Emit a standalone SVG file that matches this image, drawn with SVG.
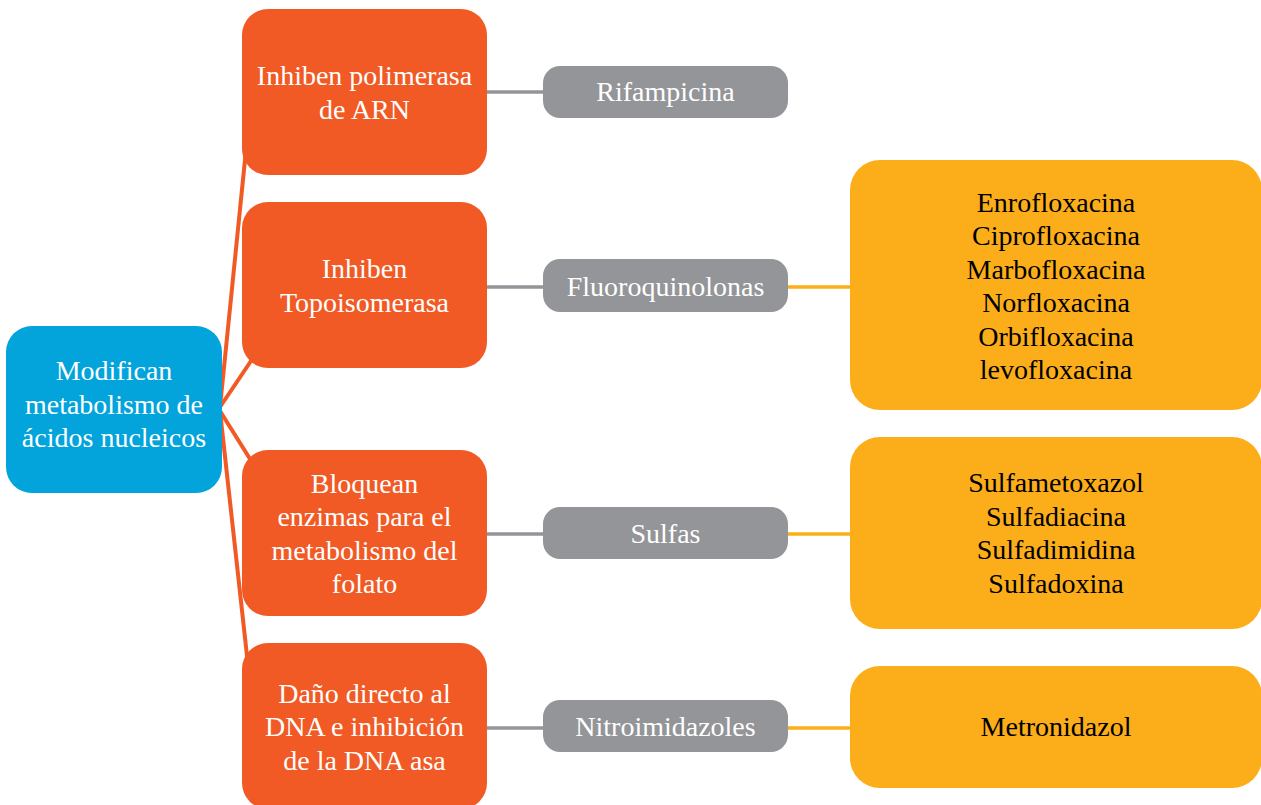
<svg xmlns="http://www.w3.org/2000/svg" width="1261" height="805" viewBox="0 0 1261 805">
<style>
text{font-size:28px;text-anchor:middle}
.w{fill:#ffffff}
.k{fill:#000000}
.blue{fill:#02A4DB}
.orange{fill:#F15A24}
.grey{fill:#939598}
.yellow{fill:#FBAE19}
.lo{stroke:#F15A24;stroke-width:4;fill:none}
.lg{stroke:#939598;stroke-width:3.5;fill:none}
.ly{stroke:#FBAE19;stroke-width:3.5;fill:none}
</style>
<rect width="1261" height="805" fill="#ffffff"/>
<g id="connectors">
<line class="lo" x1="220" y1="407" x2="247" y2="140"/>
<line class="lo" x1="220" y1="407" x2="255" y2="355"/>
<line class="lo" x1="220" y1="411" x2="255" y2="467"/>
<line class="lo" x1="220" y1="411" x2="248" y2="665"/>
<line class="lg" x1="487" y1="92" x2="544" y2="92"/>
<line class="lg" x1="487" y1="287" x2="544" y2="287"/>
<line class="lg" x1="487" y1="534" x2="544" y2="534"/>
<line class="lg" x1="487" y1="728" x2="544" y2="728"/>
<line class="ly" x1="788" y1="287" x2="851" y2="287"/>
<line class="ly" x1="788" y1="534" x2="851" y2="534"/>
<line class="ly" x1="788" y1="728" x2="851" y2="728"/>
</g>
<g font-family="'Liberation Serif', 'Times New Roman', 'DejaVu Serif', serif">
<g id="root">
<rect class="blue" x="6" y="326" width="216" height="167" rx="26"/>
<text class="w" x="114" y="380">Modifican</text>
<text class="w" x="114" y="413.5">metabolismo de</text>
<text class="w" x="114" y="447">ácidos nucleicos</text>
</g>
<g id="n1">
<rect class="orange" x="242" y="9" width="245" height="166" rx="26"/>
<text class="w" x="364.5" y="85">Inhiben polimerasa</text>
<text class="w" x="364.5" y="118.5">de ARN</text>
</g>
<g id="n2">
<rect class="orange" x="242" y="202" width="245" height="166" rx="26"/>
<text class="w" x="364.5" y="278">Inhiben</text>
<text class="w" x="364.5" y="311.5">Topoisomerasa</text>
</g>
<g id="n3">
<rect class="orange" x="242" y="450" width="245" height="166" rx="26"/>
<text class="w" x="364.5" y="492.5">Bloquean</text>
<text class="w" x="364.5" y="526">enzimas para el</text>
<text class="w" x="364.5" y="559.5">metabolismo del</text>
<text class="w" x="364.5" y="593">folato</text>
</g>
<g id="n4">
<rect class="orange" x="242" y="643" width="245" height="166" rx="26"/>
<text class="w" x="364.5" y="702.5">Daño directo al</text>
<text class="w" x="364.5" y="736">DNA e inhibición</text>
<text class="w" x="364.5" y="769.5">de la DNA asa</text>
</g>
<g id="g1">
<rect class="grey" x="543" y="66" width="245" height="52" rx="17"/>
<text class="w" x="665.5" y="100.5">Rifampicina</text>
</g>
<g id="g2">
<rect class="grey" x="543" y="259" width="245" height="53" rx="17"/>
<text class="w" x="665.5" y="296">Fluoroquinolonas</text>
</g>
<g id="g3">
<rect class="grey" x="543" y="507" width="245" height="52" rx="17"/>
<text class="w" x="665.5" y="542.5">Sulfas</text>
</g>
<g id="g4">
<rect class="grey" x="543" y="700" width="245" height="52" rx="17"/>
<text class="w" x="665.5" y="735.5">Nitroimidazoles</text>
</g>
<g id="y1">
<rect class="yellow" x="850" y="160" width="412" height="250" rx="30"/>
<text class="k" x="1056" y="211.5">Enrofloxacina</text>
<text class="k" x="1056" y="245">Ciprofloxacina</text>
<text class="k" x="1056" y="278.5">Marbofloxacina</text>
<text class="k" x="1056" y="312">Norfloxacina</text>
<text class="k" x="1056" y="345.5">Orbifloxacina</text>
<text class="k" x="1056" y="379">levofloxacina</text>
</g>
<g id="y2">
<rect class="yellow" x="850" y="437" width="412" height="192" rx="30"/>
<text class="k" x="1056" y="492">Sulfametoxazol</text>
<text class="k" x="1056" y="525.5">Sulfadiacina</text>
<text class="k" x="1056" y="559">Sulfadimidina</text>
<text class="k" x="1056" y="592.5">Sulfadoxina</text>
</g>
<g id="y3">
<rect class="yellow" x="850" y="666" width="412" height="122" rx="30"/>
<text class="k" x="1056" y="735.5">Metronidazol</text>
</g>
</g>
</svg>
